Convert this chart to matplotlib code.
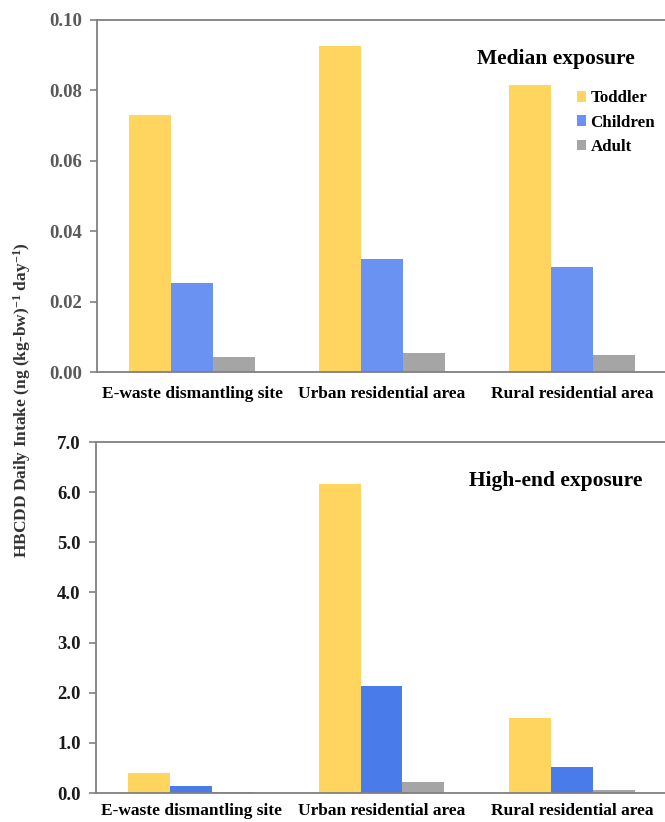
import numpy as np
import matplotlib.pyplot as plt

sites = ["E-waste dismantling site", "Urban residential area", "Rural residential area"]
groups = ["Toddler", "Children", "Adult"]

# median exposure, ng (kg-bw)-1 day-1
median_toddler = [0.073, 0.0926, 0.0815]
median_children = [0.0253, 0.0321, 0.0298]
median_adult = [0.0042, 0.0054, 0.0048]

# high-end exposure
high_toddler = [0.405, 6.17, 1.50]
high_children = [0.14, 2.14, 0.51]
high_adult = [0.01, 0.21, 0.05]

plt.rcParams["font.family"] = ["Liberation Serif", "DejaVu Serif"]
plt.rcParams["font.weight"] = "bold"
plt.rcParams["mathtext.fontset"] = "custom"
plt.rcParams["mathtext.rm"] = "Liberation Serif"
plt.rcParams["mathtext.default"] = "rm"

fig = plt.figure(figsize=(6.65, 8.22), dpi=100)
W, H = 665, 822
ax1 = fig.add_axes([97 / W, 1 - 372 / H, 570 / W, 352 / H])
ax2 = fig.add_axes([96 / W, 1 - 793 / H, 571 / W, 351 / H])

x = np.arange(len(sites)) + 0.5
bw = 0.22
yellow = "#FFD55F"


def draw(ax, vals, colors, ymax, step, fmt, tick_color, title, xpad):
    for i, (v, c) in enumerate(zip(vals, colors)):
        ax.bar(x + (i - 1) * bw, v, bw, color=c, label=groups[i], zorder=2)
    ax.set_xlim(0, 3)
    ax.set_ylim(0, ymax)
    ticks = np.arange(0, ymax + step / 2, step)
    ax.set_yticks(ticks)
    ax.set_yticklabels([fmt % t for t in ticks],
                       fontsize=13.5, fontweight="bold", color=tick_color)
    ax.set_xticks(x)
    ax.set_xticklabels(sites, fontsize=12.5, fontweight="bold", color="black")
    ax.tick_params(axis="x", length=0, pad=xpad)
    ax.tick_params(axis="y", length=5, width=1.2, color="#808080", pad=6)
    ax.spines["right"].set_visible(False)
    for s in ["left", "bottom", "top"]:
        ax.spines[s].set_color("#808080")
        ax.spines[s].set_linewidth(1.3)
    ax.text(0.805, 0.89, title, transform=ax.transAxes, ha="center", va="center",
            fontsize=15.5, fontweight="bold", color="black")


draw(ax1, [median_toddler, median_children, median_adult],
     [yellow, "#6A92F2", "#A5A5A5"], 0.10, 0.02, "%.2f", "#595959", "Median exposure", 10)
draw(ax2, [high_toddler, high_children, high_adult],
     [yellow, "#4A7BEA", "#A5A5A5"], 7.0, 1.0, "%.1f", "#1a1a1a", "High-end exposure", 7)

ax1.legend(loc="upper left", bbox_to_anchor=(0.83, 0.82), frameon=False,
           prop={"size": 12.2, "weight": "bold"}, handlelength=0.55, handleheight=0.6,
           handletextpad=0.25, labelspacing=0.5, borderaxespad=0)

fig.text(22 / W, 1 - 400 / H, "HBCDD Daily Intake (ng (kg-bw)$^{-1}$ day$^{-1}$)",
         rotation=90, ha="center", va="center", fontsize=12.5, fontweight="bold",
         color="#333333")

fig.savefig("out.png", dpi=100)
